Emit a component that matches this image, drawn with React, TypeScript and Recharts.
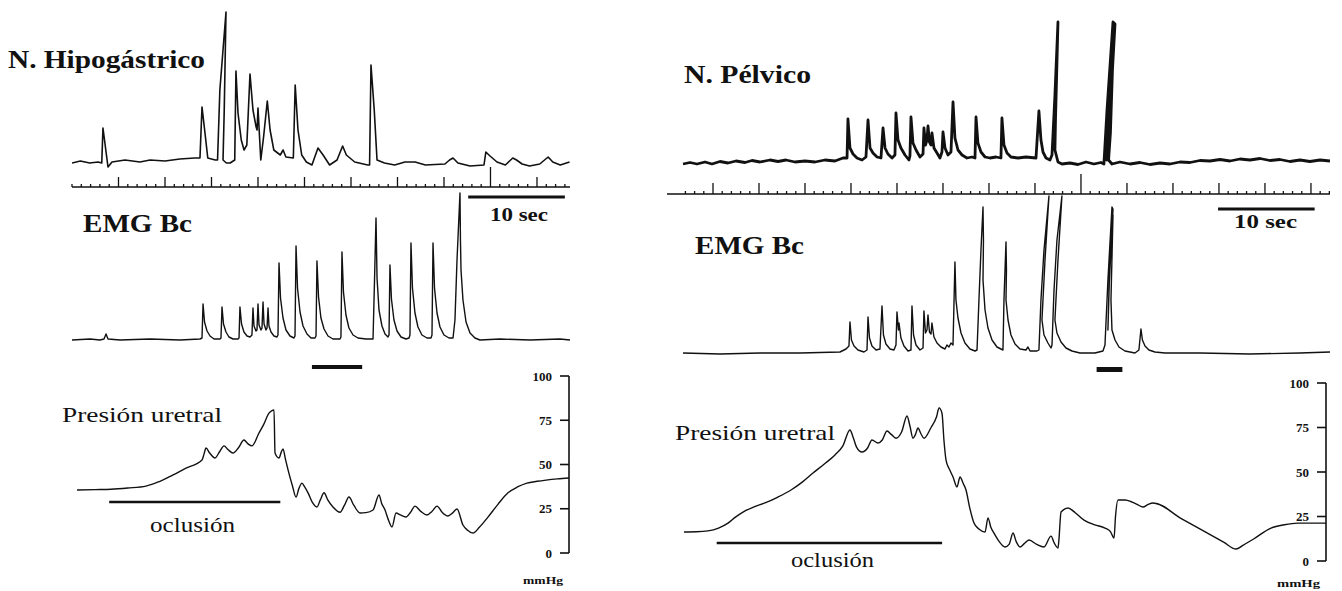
import React from 'react';
import { LineChart, Line, XAxis, YAxis, ReferenceLine, ReferenceArea } from 'recharts';

type P = [number, number];

// ---------- LEFT PANEL (time in s, amplitude in arbitrary units / mmHg) ----------
const leftNerve: P[] = [
  [0,0],[0.9,2],[1.9,0],[2.8,1],[3.2,0],[3.33,35],[3.87,-4],[4.3,1],[5.7,3],[7.3,1],[8.4,3],[10.0,2],[11.6,4],[13.2,5],[13.76,5],
  [13.98,56],[14.3,30],[14.6,5],[15.4,3],[15.65,3],[15.9,73],[16.56,151],[16.37,53],[16.24,3],[16.6,0],[17.0,0],[17.5,3],
  [17.63,92],[17.85,50],[18.2,23],[18.5,13],[18.8,18],[19.14,89],[19.46,53],[19.8,36],[19.9,33],[20.0,55],[20.3,3],[20.6,26],
  [21.0,62],[21.3,33],[21.7,13],[22.4,8],[22.7,13],[23.0,6],[23.8,5],[24.0,78],[24.3,33],[24.7,8],[25.2,1],[25.8,-2],
  [26.45,15],[27.0,8],[27.7,-2],[28.5,3],[29.1,17],[29.5,8],[30.4,1],[31.8,-2],[32.0,-2],[32.15,98],[32.5,53],[32.8,3],
  [33.6,0],[34.7,-2],[35.8,1],[36.9,1],[38.0,-2],[40.1,-1],[40.6,3],[40.97,5],[41.5,0],[42.8,-3],[44.3,-2],[44.5,11],
  [44.95,7],[45.7,1],[46.6,-2],[47.4,5],[47.8,3],[48.4,-1],[49.2,-3],[50.3,-1],[51.2,6],[51.7,1],[52.5,-2],[53.5,1],
];

const leftEmg: P[] = [
  [0,0],[1.94,1],[3.01,0],[3.44,1],[3.66,6],[3.87,1],[5.16,0],[8.39,1],[11.61,0],[13.76,1],
  [13.98,2],[14.09,36],[14.25,18],[14.52,9],[14.84,4],[15.27,1],[15.91,1],
  [16.02,2],[16.13,33],[16.29,16],[16.56,8],[16.88,3],[17.31,1],[17.85,1],
  [17.96,2],[18.06,33],[18.23,16],[18.49,8],[18.82,4],[19.14,3],[19.35,5],
  [19.46,32],[19.57,14],[19.78,9],[19.89,10],[20.0,36],[20.11,15],[20.32,10],[20.43,12],[20.54,38],[20.65,16],
  [20.86,10],[20.97,12],[21.08,32],[21.18,14],[21.4,8],[21.72,4],[22.04,3],
  [22.15,5],[22.26,77],[22.42,42],[22.69,22],[23.01,10],[23.44,4],[23.87,2],[23.98,4],
  [24.09,94],[24.25,52],[24.52,28],[24.84,14],[25.27,6],[25.7,2],[26.13,2],[26.24,4],
  [26.34,79],[26.51,43],[26.77,22],[27.1,11],[27.53,4],[28.06,1],[28.82,1],[28.92,3],
  [29.03,88],[29.19,48],[29.46,25],[29.78,12],[30.22,5],[30.75,2],[31.61,1],[32.37,1],
  [32.53,60],[32.69,122],[32.8,62],[33.01,30],[33.33,14],[33.66,6],[33.98,3],[34.09,5],
  [34.19,75],[34.35,41],[34.62,20],[34.95,9],[35.38,3],[35.91,1],[36.24,2],
  [36.34,5],[36.45,97],[36.61,52],[36.88,27],[37.2,13],[37.63,5],[38.17,2],[38.6,2],
  [38.71,5],[38.82,97],[38.98,52],[39.25,27],[39.57,13],[40.0,5],[40.54,2],[40.97,2],
  [41.18,20],[41.4,80],[41.72,147],[41.77,100],[41.83,70],[42.04,40],[42.37,18],[42.8,7],[43.33,2],[43.87,0],
  [46.02,1],[49.25,0],[52.47,1],[53.55,0],
];

const leftPressure: P[] = [
  [0.54,35.6],[2.5,35.8],[4.19,36],[6.0,36.7],[7.96,37.8],[9.2,40],[10.43,43],[12.2,47.8],[13.98,52.5],[14.2,56],
  [14.41,59.3],[14.8,56.5],[15.38,53.7],[15.9,57.5],[16.34,60.5],[16.8,58.3],[17.31,56.5],[17.9,59.5],[18.49,63.8],
  [18.9,61.8],[19.35,60.5],[19.7,63],[20.0,66.7],[20.6,72.5],[21.18,79],[21.5,80.5],[21.72,80.8],[21.83,56.5],
  [22.26,53.7],[22.5,57],[22.69,58.8],[22.95,53],[23.23,47],[23.7,38],[24.09,31.6],[24.4,36.5],[24.73,39.5],
  [25.0,37.5],[25.38,34],[25.8,29],[26.34,26],[26.7,30],[27.1,34],[27.5,30],[28.06,26],[28.82,23],[29.3,27],
  [29.78,31.6],[30.3,27],[30.97,22.6],[31.6,22.8],[32.37,24.3],[33.01,32.8],[33.3,28],[33.66,24.3],[34.0,19],
  [34.41,14.7],[34.84,22.6],[35.3,21.5],[35.91,20.3],[36.4,23],[36.88,26.5],[37.5,23.5],[38.17,21.5],[38.7,23.5],
  [39.25,26.5],[39.8,23],[40.43,20.9],[40.9,22.5],[41.4,24.9],[42.04,15.8],[42.5,13],[43.12,11.3],[43.8,14.5],
  [44.73,20.3],[45.8,27.5],[46.88,34],[47.9,37.3],[48.92,39.5],[50.0,40.5],[50.97,41.2],[52.2,41.9],[53.44,42.4],
];

// ---------- RIGHT PANEL ----------
const rightNerve: P[] = [
  [1.74,-1],[2.5,0.5],[3.26,-1],[4.13,1],[4.89,-1],[5.76,1.5],[6.63,0],[7.5,2],[8.48,0.5],[9.24,2.5],[10.11,1],[11.2,3],
  [12.07,1.5],[12.93,3],[13.91,1],[15.0,2],[16.09,1],[17.17,3],[18.26,2],[19.13,5],[19.57,5],
  [19.67,44],[19.89,15],[20.22,9],[20.65,5],[21.2,3],[21.63,6],
  [21.85,43],[22.07,15],[22.39,10],[22.83,6],[23.26,5],
  [23.48,35],[23.7,15],[24.02,9],[24.46,5],[24.78,8],
  [24.89,50],[25.11,23],[25.43,15],[25.87,8],[26.3,3],[26.41,7],
  [26.52,46],[26.74,20],[27.07,13],[27.5,6],[27.83,9],
  [27.93,35],[28.1,18],[28.26,23],[28.37,37],[28.53,21],[28.7,18],[28.8,30],[29.02,15],[29.35,10],[29.67,5],[29.89,11],
  [30.0,31],[30.22,15],[30.54,8],[30.87,11],
  [31.09,61],[31.3,25],[31.63,13],[32.07,8],[32.61,5],[33.15,6],[33.48,5],
  [33.59,46],[33.8,20],[34.13,11],[34.57,6],[35.11,5],[35.76,6],[36.3,5],
  [36.41,45],[36.63,18],[36.96,10],[37.39,6],[38.15,5],[39.02,6],[40.11,5],
  [40.43,52],[40.65,23],[40.87,11],[41.2,5],[41.63,3],[41.85,8],
  [42.17,68],[42.5,141],[42.23,43],[42.17,13],[42.5,1],[42.93,-1],
  [43.8,0],[44.67,-1.5],[45.54,1],[46.41,-1],[47.17,0.5],[47.5,-1],
  [47.5,0],[47.83,53],[48.48,141],[48.7,139],[48.1,40],[47.8,3],[48.0,50],[48.59,140],[48.2,30],[48.0,3],[48.37,-1],
  [49.24,1],[50.33,-1],[51.41,0.5],[52.5,-1.5],[53.59,0],[54.67,-1],[55.76,1],[56.85,0.5],[57.93,2.5],[59.02,2],[60.11,3.5],
  [61.2,2],[62.28,4],[63.37,3],[64.46,4.5],[65.54,2.5],[66.63,3.5],[67.72,1.5],[68.8,3],[69.89,1.5],[70.98,3],[72.07,2],
];

const rightEmg: P[] = [
  [1.74,0],[5.76,-1],[10.11,0],[14.46,0],[18.8,1],[19.46,4],
  [19.78,7],[19.89,31],[20.05,13],[20.33,7],[20.76,3],[21.41,1],
  [21.74,3],[21.85,36],[22.01,15],[22.28,7],[22.72,3],[23.15,4],
  [23.37,47],[23.53,18],[23.8,9],[24.24,4],[24.67,3],[24.89,8],
  [25.0,41],[25.16,23],[25.22,30],[25.43,15],[25.76,7],[26.2,2],[26.52,3],
  [26.63,47],[26.8,18],[27.07,8],[27.5,3],[27.83,5],
  [27.93,42],[28.1,20],[28.26,23],[28.37,38],[28.53,21],[28.7,19],[28.8,30],[29.02,16],[29.35,10],[29.78,6],
  [30.22,4],[30.43,8],[30.65,6],[30.87,10],[31.09,8],
  [31.3,91],[31.41,53],[31.63,35],[31.96,20],[32.39,10],[32.93,4],[33.48,2],
  [33.7,3],[33.91,53],[34.13,103],[34.35,146],[34.4,113],[34.35,73],[34.57,43],[34.89,25],[35.33,13],[35.87,6],[36.52,3],
  [36.63,53],[36.85,111],[36.9,83],[36.85,53],[37.07,33],[37.39,18],[37.83,9],[38.37,4],[39.02,3],[39.24,6],[39.46,2],[40.22,2],
  [40.43,3],[40.65,53],[40.98,103],[41.52,157],[41.09,93],[40.76,33],[40.98,18],[41.41,10],[41.74,5],
  [41.85,8],[42.07,63],[42.39,113],[42.93,157],[42.5,93],[42.17,33],[42.39,20],[42.83,11],[43.37,5],[44.02,2],[44.89,0],[46.52,0],[47.39,2],
  [47.61,8],[47.93,73],[48.37,146],[48.48,144],[48.04,63],[47.93,23],[48.15,93],[48.48,138],[48.26,53],[48.37,23],[48.7,13],[49.13,6],[49.78,2],[50.87,0],[51.3,3],
  [51.52,24],[51.68,13],[51.96,7],[52.39,3],[53.04,1],[54.13,0],
  [57.93,0],[63.37,-1],[68.8,0],[72.07,1],
];

const rightPressure: P[] = [
  [1.85,16.3],[3.2,16.4],[4.46,16.9],[5.6,18.5],[6.63,21.3],[7.4,24.5],[8.26,27.5],[9.4,30.3],[10.65,32.6],[12.0,35.8],
  [13.48,39.9],[14.7,44.3],[15.87,49.4],[17.1,54.5],[18.26,59.6],[19.1,64.5],[19.89,73.6],[20.2,70],[20.6,64],[21.2,61.2],
  [21.8,63.5],[22.28,68],[22.93,66.3],[23.4,68],[23.91,73],[24.4,71],[24.89,69],[25.5,72.5],[26.09,81.5],[26.4,76],
  [26.74,69],[27.0,71],[27.28,74.7],[27.6,71.5],[27.93,69],[28.7,75],[29.3,81],[29.57,86],[29.89,83],[30.1,68],
  [30.33,56.7],[30.7,51.5],[31.09,47.2],[31.52,41.6],[31.85,47.2],[32.2,43.5],[32.5,39.9],[32.9,30],[33.37,21.3],
  [33.9,18],[34.57,16.3],[34.89,24.2],[35.2,19],[35.54,15.7],[36.1,11],[36.74,7.9],[37.2,9.5],[37.61,15.7],[37.95,11],
  [38.37,7.9],[38.8,9.6],[39.35,11.8],[40.2,9.3],[40.98,7.9],[41.74,14],[42.1,10],[42.5,7.3],[42.6,12],[42.83,27.5],
  [43.59,29.8],[44.4,27],[45.33,23],[46.5,20.3],[47.61,18.5],[48.2,16.5],[48.59,12.9],[48.75,25],[49.02,34.3],
  [49.8,34.3],[50.54,33.1],[51.1,31.8],[51.74,30.3],[52.3,31.8],[52.83,32.6],[56.0,23.5],[60.5,10.6],[61.85,6.7],
  [62.6,8.8],[63.8,12.5],[65.65,18.5],[67.1,20.4],[68.59,21.3],[71.63,21.3],
];

// ---------- time markers, axes and event bars ----------
const leftSecondTicks = [0,1,2,3,4,5,6,7,8,9,10,11,12,13,14,15,16,17,18,19,20,21,22,23,24,25,26,27,28,29,30,31,32,33,34,35,36,37,38,39,40,41,42,43,44,45,46,47,48,49,50,51,52,53];
const leftMajorTicks = [5,10,15,20,25,30,35,40,45,50];
const rightSecondTicks = [2,3,4,5,6,7,8,9,10,11,12,13,14,15,16,17,18,19,20,21,22,23,24,25,26,27,28,29,30,31,32,33,34,35,36,37,38,39,40,41,42,43,44,45,46,47,48,49,50,51,52,53,54,55,56,57,58,59,60,61,62,63,64,65,66,67,68,69,70,71,72];
const rightMajorTicks = [5,10,15,20,25,30,35,40,45,50,55,60,65,70];
const markerTicks = [45];
const pressureTicks = [0, 25, 50, 75, 100];

const tenSecLeft = [42.6, 53.0];
const tenSecRight = [59.9, 70.4];
const occlusionLeft = [4.0, 22.4];
const occlusionRight = [5.4, 29.9];
const stimLeft = [25.8, 31.2];
const stimRight = [46.7, 49.5];

const toPts = (arr: P[]) => arr.map(([t, v]) => ({ t, v }));

const INK = '#111';
const SERIF = "'Liberation Serif', 'DejaVu Serif', 'Times New Roman', serif";
const PAD = 10;

type Box = { left: number; top: number; width: number; height: number };

function Trace(props: {
  box: Box; xDomain: [number, number]; yDomain: [number, number]; data: P[];
  strokeWidth?: number; curve?: 'linear' | 'monotone'; pressureAxis?: boolean; children?: React.ReactNode;
}) {
  const { box, xDomain, yDomain, data, strokeWidth = 1.4, curve = 'linear', pressureAxis = false, children } = props;
  return (
    <div style={{ position: 'absolute', left: box.left - PAD, top: box.top - PAD }}>
      <LineChart width={box.width + 2 * PAD} height={box.height + 2 * PAD} data={toPts(data)}
        margin={{ top: PAD, right: PAD, bottom: PAD, left: PAD }}>
        <XAxis dataKey="t" type="number" domain={xDomain} hide allowDataOverflow />
        {pressureAxis ? (
          <YAxis type="number" domain={yDomain} ticks={pressureTicks} orientation="right" mirror allowDataOverflow
            width={40} tickSize={9} tickMargin={8} interval={0}
            axisLine={{ stroke: INK, strokeWidth: 1.6 }} tickLine={{ stroke: INK, strokeWidth: 1.6 }}
            tick={{ fill: INK, fontSize: 13, fontWeight: 700, fontFamily: SERIF }} />
        ) : (
          <YAxis type="number" domain={yDomain} hide allowDataOverflow />
        )}
        <Line dataKey="v" type={curve} stroke={INK} strokeWidth={strokeWidth} dot={false}
          isAnimationActive={false} strokeLinejoin="round" />
        {children}
      </LineChart>
    </div>
  );
}

const AXIS_H = 20;

function TickRow(props: { box: Box; xDomain: [number, number]; ticks: number[]; majors: number[]; majorLen: number }) {
  const { box, xDomain, ticks, majors, majorLen } = props;
  const renderTick = (p: any) => {
    const v = p.payload.value;
    const len = markerTicks.includes(v) ? 20 : majors.includes(v) ? majorLen : 3;
    return <line x1={p.x} x2={p.x} y1={p.y} y2={p.y - len} stroke={INK} strokeWidth={1.3} />;
  };
  return (
    <div style={{ position: 'absolute', left: box.left - PAD, top: box.top - PAD }}>
      <LineChart width={box.width + 2 * PAD} height={box.height + AXIS_H + 2 * PAD}
        data={[{ t: xDomain[0], v: 0 }, { t: xDomain[1], v: 0 }]}
        margin={{ top: PAD, right: PAD, bottom: PAD, left: PAD }}>
        <XAxis dataKey="t" type="number" domain={xDomain} ticks={ticks} interval={0} height={AXIS_H}
          tickSize={0} tickMargin={0} tickLine={false} tick={renderTick}
          axisLine={{ stroke: INK, strokeWidth: 1.6 }} allowDataOverflow />
        <YAxis type="number" domain={[0, 1]} hide />
        <Line dataKey="v" stroke="none" dot={false} isAnimationActive={false} />
      </LineChart>
    </div>
  );
}

function Label(props: { x: number; y: number; w: number; size: number; bold?: boolean; text: string }) {
  return (
    <text x={props.x} y={props.y} fontSize={props.size} fontWeight={props.bold ? 700 : 400} fontFamily={SERIF}
      fill={INK} textLength={props.w} lengthAdjust="spacingAndGlyphs">{props.text}</text>
  );
}

export default function App() {
  const LX: [number, number] = [0, 53.55];
  const RX: [number, number] = [0, 72.07];
  return (
    <div style={{ position: 'absolute', left: 0, top: 0, width: 1342, height: 591, background: '#fff', overflow: 'hidden' }}>
      {/* Left panel */}
      <Trace box={{ left: 72, top: 0, width: 498, height: 200 }} xDomain={LX} yDomain={[-37, 163]} data={leftNerve} strokeWidth={1.6}>
        <ReferenceLine segment={[{ x: tenSecLeft[0], y: -34 }, { x: tenSecLeft[1], y: -34 }]} stroke={INK} strokeWidth={3} />
      </Trace>
      <TickRow box={{ left: 72, top: 150, width: 498, height: 37 }} xDomain={LX} ticks={leftSecondTicks} majors={leftMajorTicks} majorLen={10} />
      <Trace box={{ left: 72, top: 185, width: 498, height: 190 }} xDomain={LX} yDomain={[-35, 155]} data={leftEmg}>
        <ReferenceArea x1={stimLeft[0]} x2={stimLeft[1]} y1={-29} y2={-25} fill={INK} fillOpacity={1} stroke="none" />
      </Trace>
      <Trace box={{ left: 72, top: 376, width: 497, height: 177 }} xDomain={[0, 53.44]} yDomain={[0, 100]} data={leftPressure}
        curve="monotone" pressureAxis>
        <ReferenceLine segment={[{ x: occlusionLeft[0], y: 28.8 }, { x: occlusionLeft[1], y: 28.8 }]} stroke={INK} strokeWidth={2.5} />
      </Trace>

      {/* Right panel */}
      <Trace box={{ left: 667, top: 0, width: 663, height: 215 }} xDomain={RX} yDomain={[-52, 163]} data={rightNerve} strokeWidth={2.8}>
        <ReferenceLine segment={[{ x: tenSecRight[0], y: -46 }, { x: tenSecRight[1], y: -46 }]} stroke={INK} strokeWidth={3} />
      </Trace>
      <TickRow box={{ left: 667, top: 160, width: 663, height: 34 }} xDomain={RX} ticks={rightSecondTicks} majors={rightMajorTicks} majorLen={11} />
      <Trace box={{ left: 667, top: 185, width: 663, height: 190 }} xDomain={RX} yDomain={[-22, 168]} data={rightEmg}>
        <ReferenceArea x1={stimRight[0]} x2={stimRight[1]} y1={-19} y2={-14} fill={INK} fillOpacity={1} stroke="none" />
      </Trace>
      <Trace box={{ left: 667, top: 383, width: 659, height: 178 }} xDomain={[0, 71.63]} yDomain={[0, 100]} data={rightPressure}
        curve="monotone" pressureAxis>
        <ReferenceLine segment={[{ x: occlusionRight[0], y: 10.1 }, { x: occlusionRight[1], y: 10.1 }]} stroke={INK} strokeWidth={2.5} />
      </Trace>

      {/* Text labels */}
      <svg width={1342} height={591} style={{ position: 'absolute', left: 0, top: 0, pointerEvents: 'none' }}>
        <Label x={8} y={68} w={197} size={26} bold text="N. Hipogástrico" />
        <Label x={684} y={83} w={127} size={25} bold text="N. Pélvico" />
        <Label x={83} y={232} w={109} size={26} bold text="EMG Bc" />
        <Label x={695} y={254} w={109} size={26} bold text="EMG Bc" />
        <Label x={490} y={221} w={58} size={18} bold text="10 sec" />
        <Label x={1234} y={228} w={63} size={18} bold text="10 sec" />
        <Label x={62} y={422} w={160} size={22} text="Presión uretral" />
        <Label x={675} y={440} w={160} size={22} text="Presión uretral" />
        <Label x={150} y={532} w={85} size={22} text="oclusión" />
        <Label x={791} y={567} w={83} size={22} text="oclusión" />
        <Label x={523} y={584} w={40} size={10} bold text="mmHg" />
        <Label x={1277} y={587} w={43} size={10} bold text="mmHg" />
      </svg>
    </div>
  );
}
